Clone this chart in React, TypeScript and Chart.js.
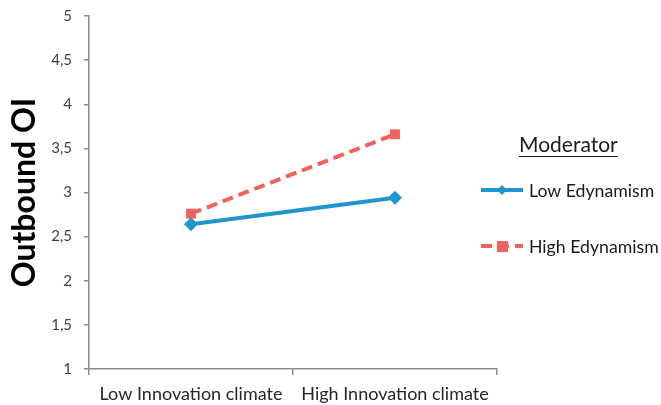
import React, { useEffect, useRef } from "react";
import { Chart, registerables } from "chart.js";

Chart.register(...registerables);

const categories = ["Low Innovation climate", "High Innovation climate"];
const lowEdynamism = [2.64, 2.94];
const highEdynamism = [2.76, 3.66];
const seriesNames = ["Low Edynamism", "High Edynamism"];
const legendTitle = "Moderator";
const yAxisTitle = "Outbound OI";

const FONT = "Lato, 'Open Sans', sans-serif";
const BLUE = "#2196cd";
const RED = "#f0625b";
const AXIS = "#8c8c8c";

const legendPlugin = {
  id: "customLegend",
  afterDraw(chart: any) {
    const ctx = chart.ctx;
    ctx.save();
    ctx.font = `21px ${FONT}`;
    ctx.fillStyle = "#1a1a1a";
    ctx.textBaseline = "middle";
    ctx.textAlign = "left";
    const tx = 519;
    const ty = 145;
    ctx.fillText(legendTitle, tx, ty);
    const w = ctx.measureText(legendTitle).width;
    ctx.strokeStyle = "#1a1a1a";
    ctx.lineWidth = 1;
    ctx.beginPath();
    ctx.moveTo(tx, ty + 11.5);
    ctx.lineTo(tx + w, ty + 11.5);
    ctx.stroke();

    const ys = [190, 246];
    chart.data.datasets.forEach((ds: any, i: number) => {
      const y = ys[i];
      ctx.strokeStyle = ds.borderColor;
      ctx.lineWidth = ds.borderWidth;
      ctx.setLineDash(ds.borderDash || []);
      ctx.beginPath();
      ctx.moveTo(481, y);
      ctx.lineTo(523, y);
      ctx.stroke();
      ctx.setLineDash([]);
      ctx.fillStyle = ds.pointBackgroundColor;
      if (ds.pointStyle === "rectRot") {
        const r = 5;
        ctx.beginPath();
        ctx.moveTo(502, y - r);
        ctx.lineTo(502 + r, y);
        ctx.lineTo(502, y + r);
        ctx.lineTo(502 - r, y);
        ctx.closePath();
        ctx.fill();
      } else {
        ctx.fillRect(497, y - 5, 11, 11);
      }
      ctx.font = `17.7px ${FONT}`;
      ctx.fillStyle = "#1a1a1a";
      ctx.fillText(ds.label, 529, y + 1);
    });
    ctx.restore();
  },
};

export default function App() {
  const ref = useRef<HTMLCanvasElement | null>(null);
  useEffect(() => {
    if (!ref.current) return;
    const chart = new Chart(ref.current, {
      type: "line",
      data: {
        labels: categories,
        datasets: [
          {
            label: seriesNames[0],
            data: lowEdynamism,
            borderColor: BLUE,
            backgroundColor: BLUE,
            pointBackgroundColor: BLUE,
            pointBorderColor: BLUE,
            borderWidth: 4,
            pointStyle: "rectRot",
            pointRadius: 7,
            pointBorderWidth: 0,
          },
          {
            label: seriesNames[1],
            data: highEdynamism,
            borderColor: RED,
            backgroundColor: RED,
            pointBackgroundColor: RED,
            pointBorderColor: RED,
            borderWidth: 4,
            borderDash: [11, 6],
            pointStyle: "rect",
            pointRadius: 7,
            pointBorderWidth: 0,
          },
        ],
      },
      options: {
        animation: false,
        responsive: false,
        devicePixelRatio: 1,
        layout: { padding: { left: 0, top: 16, right: 164, bottom: 0 } },
        plugins: { legend: { display: false }, tooltip: { enabled: false } },
        scales: {
          x: {
            offset: true,
            grid: {
              offset: true,
              drawOnChartArea: false,
              color: AXIS,
              tickLength: 6,
              lineWidth: 1.5,
            },
            border: { color: AXIS, width: 1.5 },
            ticks: {
              font: { family: FONT, size: 18 },
              color: "#262626",
              padding: 8,
              maxRotation: 0,
            },
            afterFit: (s: any) => {
              s.height = 36;
            },
          },
          y: {
            min: 1,
            max: 5,
            ticks: {
              stepSize: 0.5,
              font: { family: FONT, size: 15 },
              color: "#404040",
              padding: 12,
              callback: (v: any) => String(v).replace(".", ","),
            },
            grid: {
              drawOnChartArea: false,
              color: AXIS,
              tickLength: 5,
              lineWidth: 1.5,
            },
            border: { color: AXIS, width: 1.5 },
            title: {
              display: true,
              text: yAxisTitle,
              font: { family: FONT, size: 32, weight: "bold" },
              color: "#000000",
              padding: { top: 5, bottom: 0 },
            },
            afterFit: (s: any) => {
              s.width = 89;
              s.paddingTop = 0;
              s.paddingBottom = 0;
            },
          },
        },
      },
      plugins: [legendPlugin],
    });
    return () => chart.destroy();
  }, []);
  return (
    <div style={{ position: "absolute", left: 0, top: 0, width: 661, height: 405 }}>
      <canvas ref={ref} width={661} height={405} style={{ display: "block" }} />
    </div>
  );
}
